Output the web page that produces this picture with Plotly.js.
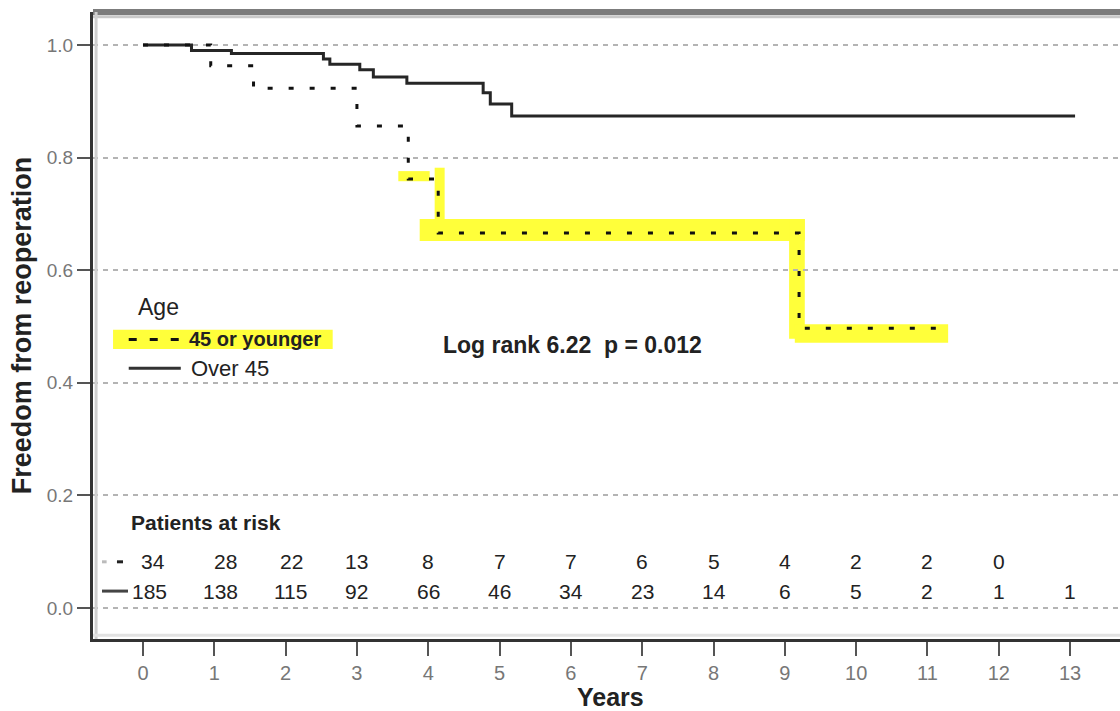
<!DOCTYPE html>
<html><head><meta charset="utf-8">
<script src="https://cdn.plot.ly/plotly-3.0.1.min.js"></script>
<style>html,body{margin:0;padding:0;background:#fff;}#chart{width:1120px;height:711px;}</style>
</head><body><div id="chart"></div>
<script>
// ---- data ----
const youngTimes = [0, 0.95, 1.55, 3.00, 3.72, 4.14, 9.20, 11.18];
const youngSurv  = [1.0, 0.963, 0.923, 0.856, 0.762, 0.666, 0.497, 0.497];
const olderTimes = [0, 0.68, 1.24, 2.53, 2.62, 3.04, 3.23, 3.70, 4.77, 4.87, 5.17, 13.07];
const olderSurv  = [1.0, 0.990, 0.985, 0.975, 0.966, 0.956, 0.943, 0.932, 0.915, 0.895, 0.874, 0.874];
const riskYears  = [0,1,2,3,4,5,6,7,8,9,10,11,12,13];
const riskYoung  = [34,28,22,13,8,7,7,6,5,4,2,2,0];
const riskOlder  = [185,138,115,92,66,46,34,23,14,6,5,2,1,1];
const xTickVals  = [0,1,2,3,4,5,6,7,8,9,10,11,12,13];
const yTickVals  = [0,0.2,0.4,0.6,0.8,1.0];
const yTickText  = ['0.0','0.2','0.4','0.6','0.8','1.0'];
const seriesNames = ['45 or younger','Over 45'];
const logRankText = 'Log rank 6.22  p = 0.012';
const xTitle = 'Years';
const yTitle = 'Freedom from reoperation';

const FONT = 'Liberation Sans, Arial, sans-serif';
const YEL = '#ffff3a';

const traces = [
  {x: olderTimes, y: olderSurv, type:'scatter', mode:'lines', name: seriesNames[1],
   line:{shape:'hv', color:'#262626', width:3}},
  {x: youngTimes, y: youngSurv, type:'scatter', mode:'lines', name: seriesNames[0],
   line:{shape:'hv', color:'#111', width:3, dash:'5px,16px'}}
];

const shapes = [
  // yellow highlights behind the younger-group curve
  {type:'rect', xref:'x', yref:'y', x0:3.58, x1:4.02, y0:0.758, y1:0.776, fillcolor:YEL, line:{width:0}, layer:'below'},
  {type:'rect', xref:'x', yref:'y', x0:4.09, x1:4.23, y0:0.675, y1:0.782, fillcolor:YEL, line:{width:0}, layer:'below'},
  {type:'rect', xref:'x', yref:'y', x0:3.88, x1:9.28, y0:0.652, y1:0.691, fillcolor:YEL, line:{width:0}, layer:'below'},
  {type:'rect', xref:'x', yref:'y', x0:9.06, x1:9.28, y0:0.478, y1:0.691, fillcolor:YEL, line:{width:0}, layer:'below'},
  {type:'rect', xref:'x', yref:'y', x0:9.14, x1:11.29, y0:0.471, y1:0.504, fillcolor:YEL, line:{width:0}, layer:'below'},
  // legend highlight
  {type:'rect', xref:'x', yref:'y', x0:-0.42, x1:2.66, y0:0.460, y1:0.494, fillcolor:YEL, line:{width:0}, layer:'below'},
  // legend line samples
  {type:'line', xref:'x', yref:'y', x0:-0.20, x1:0.52, y0:0.477, y1:0.477, line:{color:'#111', width:3, dash:'8px,13px'}},
  {type:'line', xref:'x', yref:'y', x0:-0.20, x1:0.53, y0:0.426, y1:0.426, line:{color:'#333', width:3}},
  // risk-table row markers
  {type:'line', xref:'x', yref:'y', x0:-0.365, x1:-0.28, y0:0.082, y1:0.082, line:{color:'#222', width:3}},
  {type:'line', xref:'x', yref:'y', x0:-0.575, x1:-0.51, y0:0.082, y1:0.082, line:{color:'#bbb', width:3}},
  {type:'line', xref:'x', yref:'y', x0:-0.575, x1:-0.21, y0:0.030, y1:0.030, line:{color:'#444', width:3}},
  // top frame (thick gray)
  {type:'line', xref:'paper', yref:'paper', x0:0, x1:1, y0:1, y1:1, line:{color:'#7c7c7c', width:6}},
  {type:'line', xref:'paper', yref:'paper', x0:0, x1:1, y0:0.9925, y1:0.9925, line:{color:'#c9c9c9', width:3}},
  // inner light shading along left and bottom axis lines
  {type:'line', xref:'paper', yref:'paper', x0:0.003, x1:0.003, y0:0, y1:1, line:{color:'#cfcfcf', width:3}},
  {type:'line', xref:'paper', yref:'paper', x0:0, x1:1, y0:0.006, y1:0.006, line:{color:'#e2e2e2', width:3}}
];

const annotations = [
  {x:-0.10, y:0.535, xref:'x', yref:'y', text:'Age', showarrow:false, xanchor:'left', yanchor:'middle',
   font:{family:FONT, size:23, color:'#222'}},
  {x:0.62, y:0.477, xref:'x', yref:'y', text:'<b>'+seriesNames[0]+'</b>', showarrow:false, xanchor:'left', yanchor:'middle',
   font:{family:FONT, size:20, color:'#222'}},
  {x:0.64, y:0.426, xref:'x', yref:'y', text:seriesNames[1], showarrow:false, xanchor:'left', yanchor:'middle',
   font:{family:FONT, size:22, color:'#222'}},
  {x:4.18, y:0.467, xref:'x', yref:'y', text:'<b>'+logRankText+'</b>', showarrow:false, xanchor:'left', yanchor:'middle',
   font:{family:FONT, size:23, color:'#222'}},
  {x:-0.20, y:0.152, xref:'x', yref:'y', text:'<b>Patients at risk</b>', showarrow:false, xanchor:'left', yanchor:'middle',
   font:{family:FONT, size:21, color:'#222'}},
  // x axis title
  {x:0.504, y:-0.067, xref:'paper', yref:'paper', text:'<b>'+xTitle+'</b>', showarrow:false, xanchor:'center', yanchor:'top',
   font:{family:FONT, size:25, color:'#222'}}
];
const shiftYoung = [10,11,6];
const shiftOlder = [7,6,5];
riskYoung.forEach((v,i)=>annotations.push({x:riskYears[i], y:0.082, xref:'x', yref:'y', text:String(v), showarrow:false,
  xshift: i<3 ? shiftYoung[i] : 0, yanchor:'middle', font:{family:FONT, size:21, color:'#222'}}));
riskOlder.forEach((v,i)=>annotations.push({x:riskYears[i], y:0.030, xref:'x', yref:'y', text:String(v), showarrow:false,
  xshift: i<3 ? shiftOlder[i] : 0, yanchor:'middle', font:{family:FONT, size:21, color:'#222'}}));

const layout = {
  width:1120, height:711,
  margin:{l:93, r:0, t:12, b:72},
  paper_bgcolor:'#fff', plot_bgcolor:'#fff',
  showlegend:false,
  xaxis:{range:[-0.701, 13.70], tickvals:xTickVals, ticks:'outside', ticklen:14, tickwidth:2, tickcolor:'#555',
    showgrid:false, zeroline:false, showline:true, linecolor:'#333', linewidth:3,
    tickfont:{family:FONT, size:20, color:'#777'}},
  yaxis:{range:[-0.0551, 1.0586], tickvals:yTickVals, ticktext:yTickText, ticks:'outside', ticklen:13, tickwidth:2, tickcolor:'#555',
    showgrid:true, gridcolor:'#b4b4b4', gridwidth:2, griddash:'5px,5px', zeroline:false,
    showline:true, linecolor:'#333', linewidth:3,
    tickfont:{family:FONT, size:19, color:'#777'},
    title:{text:'<b>'+yTitle+'</b>', font:{family:FONT, size:27, color:'#222'}, standoff:8}},
  shapes:shapes,
  annotations:annotations
};
Plotly.newPlot('chart', traces, layout, {staticPlot:true, displayModeBar:false});
</script>
</body></html>
